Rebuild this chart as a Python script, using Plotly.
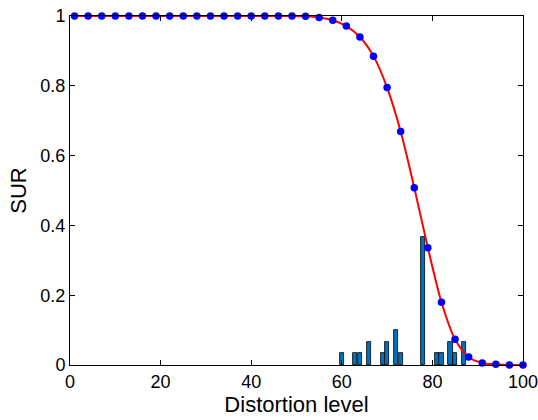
import plotly.graph_objects as go

# SUR curve samples (distortion level -> SUR)
levels = [1, 4, 7, 10, 13, 16, 19, 22, 25, 28, 31, 34, 37, 40, 43, 46, 49,
          52, 55, 58, 61, 64, 67, 70, 73, 76, 79, 82, 85, 88, 91, 94, 97, 100]
sur = [1.0, 1.0, 1.0, 1.0, 1.0, 1.0, 1.0, 1.0, 1.0, 1.0, 1.0, 1.0, 1.0, 1.0,
       1.0, 1.0, 1.0, 0.999, 0.996, 0.988, 0.971, 0.940, 0.885, 0.795, 0.669,
       0.508, 0.336, 0.180, 0.074, 0.023, 0.006, 0.002, 0.0, 0.0]

# histogram of observed distortion levels (fraction of 30 samples)
hist_levels = [60, 63, 64, 66, 69, 70, 72, 73, 78, 81, 82, 84, 85, 87]
hist_frac = [1/30, 1/30, 1/30, 2/30, 1/30, 2/30, 3/30, 1/30, 11/30,
             1/30, 1/30, 2/30, 1/30, 2/30]

fig = go.Figure()

fig.add_trace(go.Bar(
    x=hist_levels, y=hist_frac, width=0.9,
    marker=dict(color='#0072BD', line=dict(color='black', width=0.8)),
    showlegend=False))

fig.add_trace(go.Scatter(
    x=levels, y=sur, mode='lines',
    line=dict(color='red', width=2, shape='spline', smoothing=0.8),
    showlegend=False, cliponaxis=False))

fig.add_trace(go.Scatter(
    x=levels, y=sur, mode='markers',
    marker=dict(color='blue', size=7.5),
    showlegend=False, cliponaxis=False))

font = 'Liberation Sans, Arial'
axis_style = dict(
    showline=True, linecolor='black', linewidth=1, mirror='ticks',
    ticks='inside', ticklen=5, tickcolor='black', showgrid=False,
    zeroline=False, automargin=False, ticklabeloverflow='allow',
    tickfont=dict(family=font, size=18, color='black'),
)

fig.update_xaxes(range=[0, 100], tickvals=[0, 20, 40, 60, 80, 100],
                 title=dict(text='Distortion level', standoff=2,
                            font=dict(family=font, size=22, color='black')),
                 **axis_style)
fig.update_yaxes(range=[0, 1], tickvals=[0, 0.2, 0.4, 0.6, 0.8, 1],
                 ticktext=['0', '0.2', '0.4', '0.6', '0.8', '1'],
                 title=dict(text='SUR', standoff=7,
                            font=dict(family=font, size=22, color='black')),
                 **axis_style)

fig.update_layout(
    width=538, height=420,
    margin=dict(l=70, r=15, t=16, b=55),
    plot_bgcolor='white', paper_bgcolor='white',
    bargap=0,
)

# drop the default page margin so the figure sits at the window corner
fig.write_html("out.html", config={'displayModeBar': False},
               post_script="document.body.style.margin='0';")
